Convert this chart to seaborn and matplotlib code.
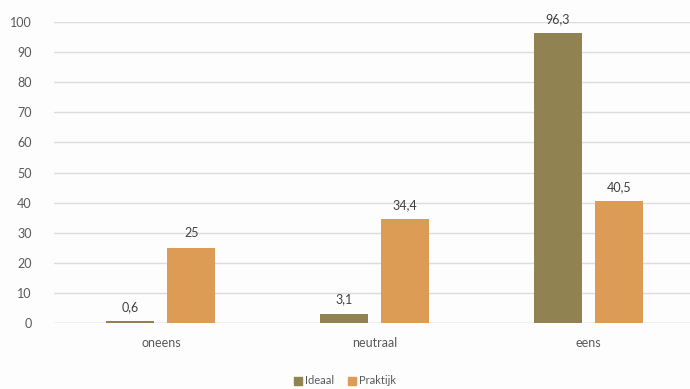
import matplotlib
matplotlib.use("Agg")
import matplotlib.pyplot as plt
import seaborn as sns
import pandas as pd

categories = ["oneens", "neutraal", "eens"]
series_names = ["Ideaal", "Praktijk"]
ideaal = [0.6, 3.1, 96.3]
praktijk = [25, 34.4, 40.5]
y_ticks = list(range(0, 101, 10))

colors = {"Ideaal": "#918251", "Praktijk": "#DC9C55"}

df = pd.DataFrame({
    "categorie": categories * 2,
    "reeks": [series_names[0]] * 3 + [series_names[1]] * 3,
    "waarde": ideaal + praktijk,
})

sns.set_theme(style="white")
plt.rcParams["font.family"] = ["Lato", "DejaVu Sans"]

W, H = 690, 389
fig = plt.figure(figsize=(W / 100, H / 100), dpi=100)
fig.patch.set_facecolor("#fdfdfd")
ax = fig.add_axes([54 / W, (H - 323) / H, (695 - 54) / W, (323 - 22) / H])
ax.set_facecolor("#fdfdfd")

sns.barplot(data=df, x="categorie", y="waarde", hue="reeks", order=categories,
            hue_order=series_names, palette=colors, width=0.57, gap=0.21,
            ax=ax, legend=False, saturation=1, edgecolor="none")

ax.set_ylim(0, 100)
ax.set_xlim(-0.5, 2.5)
ax.set_yticks(y_ticks)
ax.yaxis.grid(True, color="#dcdcdc", linewidth=1)
ax.set_axisbelow(True)
for s in ax.spines.values():
    s.set_visible(False)
ax.axhline(0, color="#d0d0d0", linewidth=1, zorder=0.5)
ax.set_xlabel("")
ax.set_ylabel("")
ax.tick_params(axis="y", labelsize=9, labelcolor="#595959", length=0, pad=16)
ax.tick_params(axis="x", labelsize=9, labelcolor="#595959", length=0, pad=10)

for container in ax.containers:
    ax.bar_label(container, labels=[f"{v:g}".replace(".", ",") for v in container.datavalues],
                 padding=6, fontsize=9, color="#404040")

handles = [plt.Rectangle((0, 0), 1, 1, color=colors[n]) for n in series_names]
fig.legend(handles, series_names, loc="center", bbox_to_anchor=(345 / W, 1 - 381 / H),
           ncol=2, frameon=False, fontsize=8, handlelength=0.7, handleheight=0.7,
           handletextpad=0.3, columnspacing=1.2, labelcolor="#595959")

fig.savefig("out.png", dpi=100, facecolor=fig.get_facecolor())
